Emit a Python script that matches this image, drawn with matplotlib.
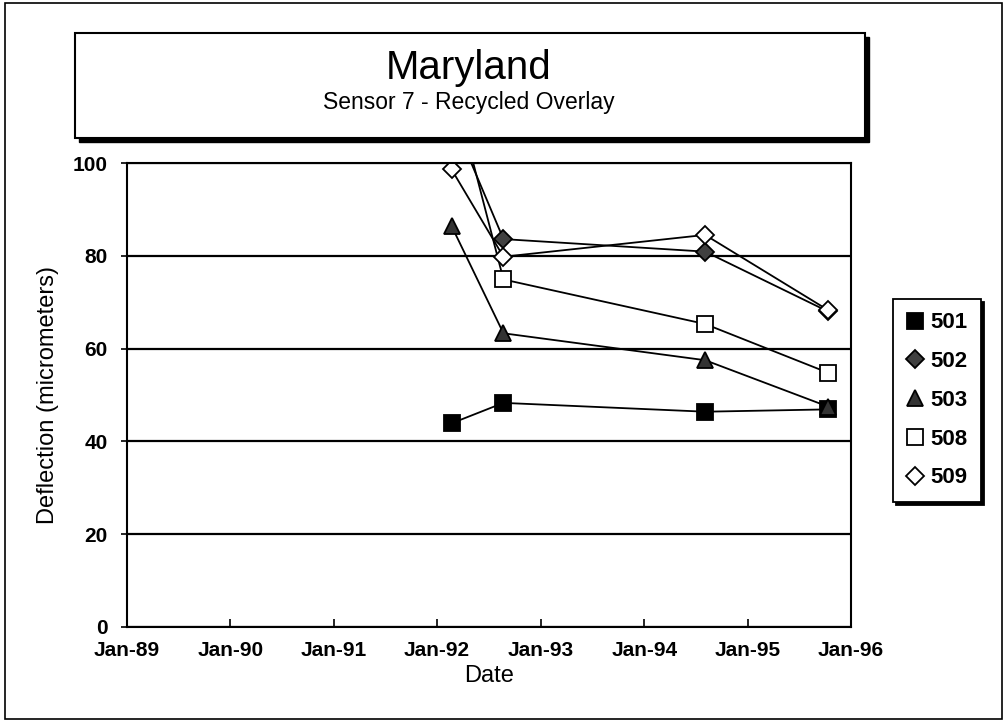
import pandas as pd
import matplotlib
matplotlib.use("Agg")
import matplotlib.pyplot as plt
import matplotlib.dates as mdates
from matplotlib.patches import Rectangle

plt.rcParams['font.family'] = ['Liberation Sans', 'DejaVu Sans']

# Data
dates = pd.to_datetime(["1992-02-21", "1992-08-22", "1994-08-04", "1995-10-12"])
s501 = [43.9, 48.3, 46.4, 46.9]
s502 = [110.0, 83.6, 80.9, 68.0]
s503 = [86.4, 63.3, 57.5, 47.5]
s508 = [118.0, 74.9, 65.3, 54.8]
s509 = [98.6, 79.8, 84.5, 68.3]
series_names = ["501", "502", "503", "508", "509"]
tick_years = [1989, 1990, 1991, 1992, 1993, 1994, 1995, 1996]

fig = plt.figure(figsize=(10.08, 7.26), dpi=100)
ax = fig.add_axes([127 / 1008, 1 - 627 / 726, (851 - 127) / 1008, (627 - 163) / 726])

styles = {
    "501": dict(marker="s", ms=12, mfc="black", mec="black"),
    "502": dict(marker="D", ms=9.5, mfc="0.25", mec="black"),
    "503": dict(marker="^", ms=12, mfc="0.2", mec="black"),
    "508": dict(marker="s", ms=12, mfc="white", mec="black"),
    "509": dict(marker="D", ms=9.5, mfc="white", mec="black"),
}
values = {"501": s501, "502": s502, "503": s503, "508": s508, "509": s509}

for name in series_names:
    ax.plot(dates, values[name], color="black", lw=1.3, mew=1.3,
            label=name, **styles[name])

ax.set_ylim(0, 100)
ax.set_xlim(pd.Timestamp("1989-01-01"), pd.Timestamp("1996-01-01"))
ax.set_yticks([0, 20, 40, 60, 80, 100])
ax.set_xticks([pd.Timestamp(f"{y}-01-01") for y in tick_years])
ax.xaxis.set_major_formatter(mdates.DateFormatter("%b-%y"))
ax.yaxis.grid(True, color="black", lw=1.6)
ax.set_axisbelow(True)
for sp in ax.spines.values():
    sp.set_linewidth(1.5)
ax.tick_params(axis="x", direction="in", length=6, width=1.2, labelsize=15, pad=10)
ax.tick_params(axis="y", direction="out", length=4, width=1.2, labelsize=15, pad=10)
for lbl in ax.get_xticklabels() + ax.get_yticklabels():
    lbl.set_fontweight("bold")

ax.set_xlabel("Date", fontsize=17, labelpad=4)
ax.set_ylabel("Deflection (micrometers)", fontsize=17, labelpad=10)

# title box with shadow
bx0, by0, bw, bh = 75 / 1008, 1 - 138 / 726, (865 - 75) / 1008, 105 / 726
fig.patches.append(Rectangle((bx0 + 4 / 1008, by0 - 4 / 726), bw, bh, transform=fig.transFigure,
                             facecolor="black", edgecolor="black", zorder=1))
fig.patches.append(Rectangle((bx0, by0), bw, bh, transform=fig.transFigure,
                             facecolor="white", edgecolor="black", lw=1.5, zorder=2))
fig.text(469 / 1008, 1 - 68 / 726, "Maryland", ha="center", va="center", fontsize=29)
fig.text(469 / 1008, 1 - 103 / 726, "Sensor 7 - Recycled Overlay", ha="center", va="center", fontsize=16.5)

# outer frame
fig.patches.append(Rectangle((5 / 1008, 1 - 719 / 726), 997 / 1008, 716 / 726, transform=fig.transFigure,
                             facecolor="none", edgecolor="black", lw=1.2))

leg = fig.legend(loc="upper left", bbox_to_anchor=(893 / 1008, 1 - 299 / 726), borderaxespad=0,
                 prop={"size": 16, "weight": "bold"}, frameon=True, fancybox=False,
                 handlelength=0.8, handletextpad=0.3, labelspacing=0.8, borderpad=0.6,
                 shadow={"color": "black", "alpha": 1})
leg.get_frame().set_edgecolor("black")
leg.get_frame().set_linewidth(1.3)
for h in leg.get_lines():
    h.set_linestyle("none")

fig.savefig("out.png", dpi=100)
